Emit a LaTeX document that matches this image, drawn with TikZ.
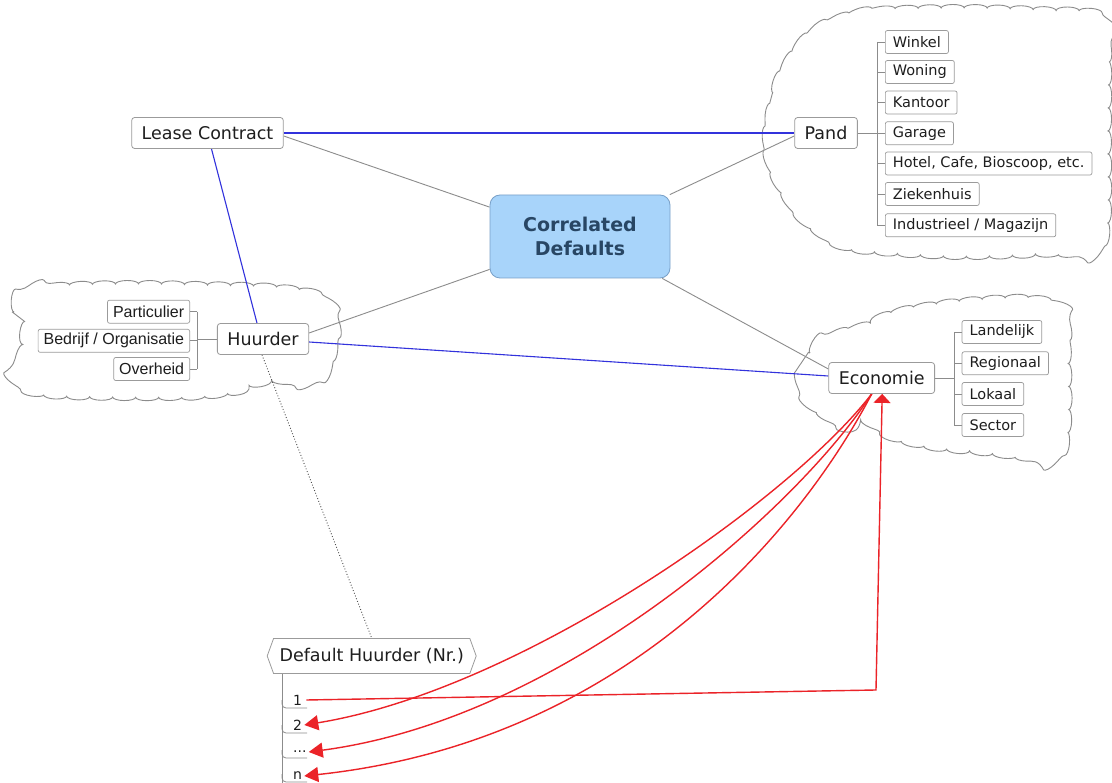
\documentclass[tikz,border=0pt]{standalone}
\usepackage{fontspec}
\setmainfont{DejaVu Sans}
\newfontfamily\arialf{Liberation Sans}
\usetikzlibrary{arrows.meta,shapes.symbols,decorations.pathmorphing,calc}
\definecolor{edgegray}{RGB}{140,140,140}
\definecolor{boxgray}{RGB}{155,155,155}
\definecolor{linkblue}{RGB}{50,50,220}
\definecolor{linkred}{RGB}{235,35,40}
\definecolor{cdfill}{RGB}{168,212,250}
\definecolor{cdborder}{RGB}{120,160,200}
\definecolor{cdtext}{RGB}{40,70,100}
\definecolor{txt}{RGB}{30,30,30}
\pgfdeclarelayer{bg}
\pgfsetlayers{bg,main}
\tikzset{
  mainnode/.style={draw=boxgray, fill=white, rounded corners=3pt, inner xsep=10pt, inner ysep=0pt,
    minimum height=31pt, font=\fontsize{17.5}{21}\selectfont, text=txt, line width=0.8pt},
  subnode/.style={draw=boxgray, fill=white, rounded corners=2pt, inner xsep=7.5pt, inner ysep=0pt,
    minimum height=23pt, font=\fontsize{14.5}{17}\selectfont, text=txt, line width=0.7pt},
  hsubnode/.style={subnode, font=\arialf\fontsize{16}{19}\selectfont, inner xsep=5.5pt},
  itemnode/.style={inner sep=1pt, font=\fontsize{14}{16}\selectfont, text=txt},
  cloudline/.style={draw=edgegray, line width=0.9pt, decorate,
    decoration={bumps, segment length=46pt, amplitude=3.5pt}},
  treeline/.style={draw=edgegray, line width=0.8pt},
  grayedge/.style={draw=edgegray, line width=0.9pt},
  blueedge/.style={draw=linkblue, line width=1.1pt},
  redlink/.style={draw=linkred, line width=1.4pt},
  redtip/.style={-{Triangle[length=14pt,width=15pt]}},
  redtipup/.style={-{Triangle[length=9pt,width=17pt]}},
}
\begin{document}
\begin{tikzpicture}[x=1pt,y=-1pt]
\useasboundingbox (0,0) rectangle (1112,783);

% main nodes
\node[draw=cdborder, fill=cdfill, rounded corners=10pt, minimum width=180pt, minimum height=83pt,
  align=center, font=\bfseries\fontsize{19}{24}\selectfont, text=cdtext, line width=0.8pt]
  (cd) at (580,236.5) {Correlated\\Defaults};
\node[mainnode] (lease) at (207.5,133) {Lease Contract};
\node[mainnode] (pand) at (826,133) {Pand};
\node[mainnode] (huurder) at (263,339) {Huurder};
\node[mainnode] (econ) at (881.7,378) {Economie};

% Pand children
\node[subnode, anchor=west] (winkel) at (885,42) {Winkel};
\node[subnode, anchor=west] (woning) at (885,72) {Woning};
\node[subnode, anchor=west] (kantoor) at (885,102.5) {Kantoor};
\node[subnode, anchor=west] (garage) at (885,133.3) {Garage};
\node[subnode, anchor=west] (hotel) at (885,163.5) {Hotel, Cafe, Bioscoop, etc.};
\node[subnode, anchor=west] (zieken) at (885,194) {Ziekenhuis};
\node[subnode, anchor=west] (indus) at (885,225.3) {Industrieel / Magazijn};

% Economie children
\node[subnode, anchor=west] (landelijk) at (961.7,332) {Landelijk};
\node[subnode, anchor=west] (regionaal) at (961.7,363.3) {Regionaal};
\node[subnode, anchor=west] (lokaal) at (961.7,394) {Lokaal};
\node[subnode, anchor=west] (sector) at (961.7,425) {Sector};

% Huurder children
\node[hsubnode, anchor=east] (partic) at (190,311.7) {Particulier};
\node[hsubnode, anchor=east] (bedrijf) at (190,340.8) {Bedrijf / Organisatie};
\node[hsubnode, anchor=east] (overheid) at (190,369) {Overheid};

% Default Huurder
\node[draw=boxgray, fill=white, signal, signal to=west and east, signal pointer angle=140,
  inner xsep=6pt, inner ysep=0pt, minimum height=35pt, font=\fontsize{17.5}{21}\selectfont,
  text=txt, line width=0.8pt] (dh) at (371.7,656) {Default Huurder (Nr.)};
\node[itemnode, anchor=west] (i1) at (292,700) {1};
\node[itemnode, anchor=west] (i2) at (292,725) {2};
\node[itemnode, anchor=west] (i3) at (292,752) {...};
\node[itemnode, anchor=west] (i4) at (292,776) {n};

\begin{pgfonlayer}{bg}
\fill[white] (0,0) rectangle (1112,783);
% clouds
\draw[cloudline] plot[smooth cycle, tension=0.55] coordinates {
  (767,133) (773,93) (790,57) (812,32) (845,16) (880,10) (960,8) (1040,10) (1095,14)
  (1107,40) (1108,133) (1107,225) (1095,250) (1040,254) (960,256) (880,252) (843,246)
  (805,222) (780,188) (768,158)};
\draw[cloudline] plot[smooth cycle, tension=0.55] coordinates {
  (802,380) (810,353) (825,339) (853,329) (893,313) (947,303) (1013,298) (1050,302)
  (1065,315) (1068,363) (1068,420) (1062,452) (1040,458) (980,452) (940,448) (900,440)
  (880,428) (853,428) (820,413) (805,397)};
\draw[cloudline] plot[smooth cycle, tension=0.55] coordinates {
  (22,340) (14,312) (25,292) (60,286) (130,284) (200,285) (270,287) (315,294) (333,312)
  (335,340) (328,368) (310,381) (273,381) (250,389) (200,396) (120,397) (42,394) (16,380)
  (18,360)};

% gray edges to centre
\draw[grayedge] ([yshift=-3pt]lease.east) -- (cd.162);
\draw[grayedge] ([yshift=-3pt]pand.west) -- (cd.25);
\draw[grayedge] ([yshift=6pt]huurder.east) -- (cd.200);
\draw[grayedge] ([yshift=9pt]econ.west) -- (cd.-27);

% blue relationships
\draw[blueedge] (lease.east) -- (pand.west);
\draw[blueedge] ([xshift=4pt]lease.south) -- ([xshift=-6pt]huurder.north);
\draw[blueedge] ([yshift=-3pt]huurder.east) -- ([yshift=2pt]econ.west);

% dotted
\draw[draw=black!70, dotted, line width=0.9pt] ([xshift=-1pt]huurder.south) -- (dh.north);

% Pand tree
\draw[treeline] (pand.east) -- ++(20,0);
\draw[treeline] ([xshift=-8pt]winkel.west) -- ([xshift=-8pt]indus.west);
\foreach \n in {winkel,woning,kantoor,garage,hotel,zieken,indus}
  \draw[treeline] (\n.west) -- ++(-8,0);
% Economie tree
\draw[treeline] (econ.east) -- ++(20,0);
\draw[treeline] ([xshift=-7.7pt]landelijk.west) -- ([xshift=-7.7pt]sector.west);
\foreach \n in {landelijk,regionaal,lokaal,sector}
  \draw[treeline] (\n.west) -- ++(-7.7,0);
% Huurder tree
\draw[treeline] (huurder.west) -- ++(-20,0);
\draw[treeline] ([xshift=7pt]partic.east) -- ([xshift=7pt]overheid.east);
\foreach \n in {partic,bedrijf,overheid}
  \draw[treeline] (\n.east) -- ++(7,0);
% Default Huurder tree
\coordinate (dhs) at (282,673);
\draw[treeline] (dhs) -- (282,783);
\foreach \yy in {708,733,758,782}
  \draw[treeline, rounded corners=4pt] (282,\yy-8) |- (307,\yy);

% red links
\coordinate (rc) at (876,690);
\draw[redlink, redtipup] ([xshift=3pt]i1.east) -- (rc) -- ([xshift=0.5pt]econ.south);
\draw[redlink, redtip] ([xshift=-10pt]econ.south) .. controls (790,500) and (520,690) .. ([xshift=1pt]i2.east);
\draw[redlink, redtip] ([xshift=-10pt]econ.south) .. controls (800,505) and (565,718) .. ([xshift=1pt]i3.east);
\draw[redlink, redtip] ([xshift=-10pt]econ.south) .. controls (810,512) and (640,740) .. ([xshift=1pt]i4.east);
\end{pgfonlayer}
\end{tikzpicture}
\end{document}
